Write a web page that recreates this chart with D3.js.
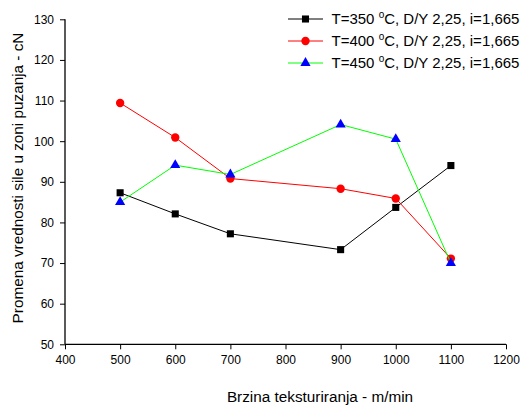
<!DOCTYPE html>
<html><head><meta charset="utf-8">
<script src="https://cdn.jsdelivr.net/npm/d3@7"></script>
<style>body{margin:0;background:#fff;overflow:hidden}svg{display:block}text{font-family:"Liberation Sans",Arial,sans-serif;fill:#000}</style>
</head><body><svg id="c" width="523" height="405"></svg>
<script>
const speeds = [500, 600, 700, 900, 1000, 1100];
const t350 = [87.3, 82.1, 77.2, 73.3, 83.7, 94.0];
const t400 = [109.4, 100.9, 90.8, 88.3, 85.9, 71.1];
const t450 = [85.0, 94.1, 91.8, 104.1, 100.5, 70.0];
const seriesNames = ["T=350 ", "T=400 ", "T=450 "];
const xTicks = [400, 500, 600, 700, 800, 900, 1000, 1100, 1200];
const yTicks = [50, 60, 70, 80, 90, 100, 110, 120, 130];
const xTitle = "Brzina teksturiranja - m/min";
const yTitle = "Promena vrednosti sile u zoni puzanja - cN";

const series = [
  {name: seriesNames[0], values: t350, line: "#000", fill: "#000", shape: d3.symbolSquare, size: 50},
  {name: seriesNames[1], values: t400, line: "#ff0000", fill: "#ff0000", shape: d3.symbolCircle, size: 55},
  {name: seriesNames[2], values: t450, line: "#00ff00", fill: "#0000ff", shape: d3.symbolTriangle, size: 45}
];

const svg = d3.select("#c");
const x = d3.scaleLinear().domain([400, 1200]).range([65, 506]);
const y = d3.scaleLinear().domain([50, 130]).range([344.3, 19.3]);

const gx = svg.append("g").attr("transform", `translate(0,${y(50)})`);
gx.call(d3.axisBottom(x).tickValues(d3.range(450, 1200, 100)).tickSize(3).tickFormat(""));
gx.call(d3.axisBottom(x).tickValues(xTicks).tickSize(5).tickPadding(6).tickFormat(d3.format("d")));
const gy = svg.append("g").attr("transform", `translate(${x(400)},0)`);
gy.call(d3.axisLeft(y).tickValues(d3.range(55, 130, 10)).tickSize(3).tickFormat(""));
gy.call(d3.axisLeft(y).tickValues(yTicks).tickSize(5).tickPadding(6).tickFormat(d3.format("d")));
svg.selectAll(".domain").attr("stroke", "#000").attr("stroke-width", 1.3);
svg.selectAll(".tick line").attr("stroke", "#000");
svg.selectAll(".tick text").style("font-size", "12px").attr("fill", "#000");
gx.selectAll(".domain").attr("d", `M${x(400)},0H${x(1200)}`);
gy.selectAll(".domain").attr("d", `M0,${y(50)}V${y(130)}`);

const line = d3.line().x((d, i) => x(speeds[i])).y(d => y(d));
series.forEach(s => {
  svg.append("path").datum(s.values).attr("d", line)
    .attr("fill", "none").attr("stroke", s.line).attr("stroke-width", 1);
  svg.selectAll(null).data(s.values).enter().append("path")
    .attr("d", d3.symbol().type(s.shape).size(s.size))
    .attr("transform", (d, i) => `translate(${x(speeds[i])},${y(d)})`)
    .attr("fill", s.fill);
});

series.forEach((s, k) => {
  const ly = 19 + k * 22;
  svg.append("line").attr("x1", 288).attr("x2", 323).attr("y1", ly).attr("y2", ly)
    .attr("stroke", s.line).attr("stroke-width", 1);
  svg.append("path").attr("d", d3.symbol().type(s.shape).size(s.size))
    .attr("transform", `translate(305.5,${ly})`).attr("fill", s.fill);
  const t = svg.append("text").attr("x", 331.5).attr("y", ly + 5.3).style("font-size", "15px");
  t.append("tspan").text(s.name);
  t.append("tspan").attr("dy", -6).style("font-size", "10px").text("o");
  t.append("tspan").attr("dy", 6).text("C, D/Y 2,25, i=1,665");
});

svg.append("text").attr("x", 320).attr("y", 401.5).attr("text-anchor", "middle")
  .style("font-size", "15.3px").text(xTitle);
svg.append("text").attr("transform", "translate(22.5,178) rotate(-90)").attr("text-anchor", "middle")
  .style("font-size", "15.3px").text(yTitle);
</script></body></html>
